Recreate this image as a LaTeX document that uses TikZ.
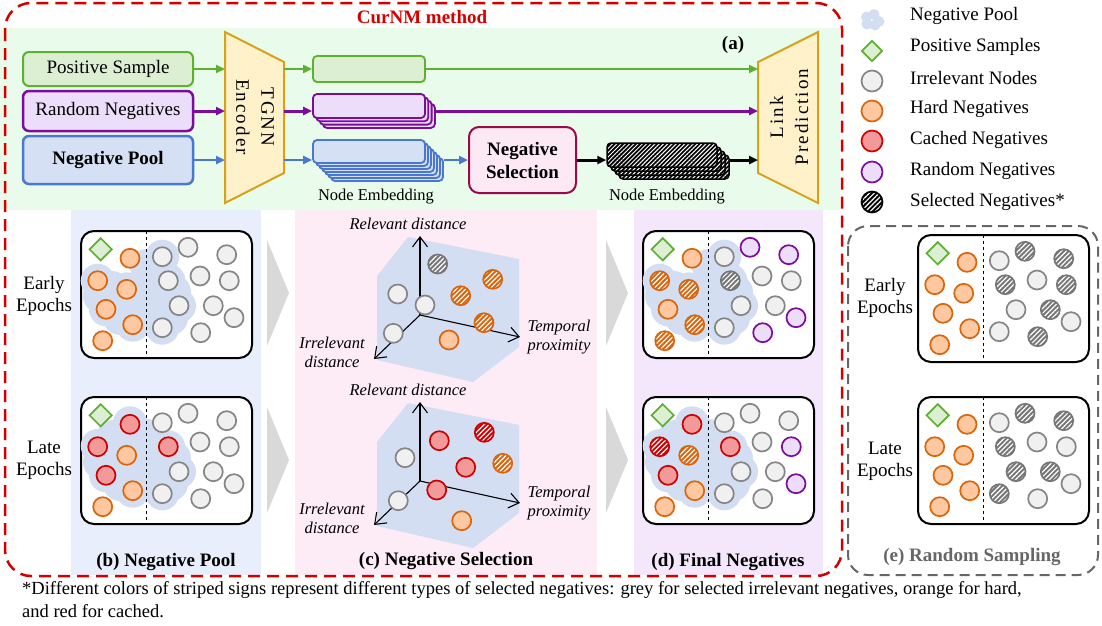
\documentclass[tikz,border=0pt]{standalone}
\usepackage{fontspec}
\setmainfont{Liberation Serif}
\newfontfamily\spacedserif[LetterSpace=11]{Liberation Serif}
\usetikzlibrary{arrows.meta, positioning, shapes.geometric, patterns.meta}

\definecolor{PosGreen}{HTML}{5DB12F}
\definecolor{PosFill}{HTML}{DCEFD3}
\definecolor{RndPurple}{HTML}{7B0C9C}
\definecolor{RndFill}{HTML}{ECDDFA}
\definecolor{PoolBlue}{HTML}{4A78CF}
\definecolor{PoolFill}{HTML}{D6E0F4}
\definecolor{EncGold}{HTML}{D6A21A}
\definecolor{EncFill}{HTML}{FFF2CB}
\definecolor{SelBorder}{HTML}{9A0A4A}
\definecolor{SelFill}{HTML}{FCE9F4}
\definecolor{HardLine}{HTML}{D9650C}
\definecolor{HardFill}{HTML}{FFC8A0}
\definecolor{CacheLine}{HTML}{CE0000}
\definecolor{CacheFill}{HTML}{F19A99}
\definecolor{IrrLine}{HTML}{858585}
\definecolor{IrrDark}{HTML}{767676}
\definecolor{IrrFill}{HTML}{F0F0F0}
\definecolor{MethodRed}{HTML}{D40000}
\definecolor{BgA}{HTML}{E9FBEA}
\definecolor{BgB}{HTML}{E8EEFC}
\definecolor{BgC}{HTML}{FDEBF5}
\definecolor{BgD}{HTML}{F4E7FB}
\definecolor{Blob}{HTML}{D4DEF3}
\definecolor{Chevron}{HTML}{D9D9D9}
\definecolor{RandGray}{HTML}{666666}

% places of the 18 samples in a box, read off the upper box of (b)
\def\nx{{100.7,130,97.7,126.7,106,132.7,102.7,162.3,188,226.7,168.3,200,229.3,179,213.3,234,162.3,200.7}}
\def\ny{{249.3,258.3,280.7,289.3,309.3,324.7,340.7,256.7,247.3,254.7,280.7,276,280.7,305.7,305.7,317.7,327.7,332.7}}

\begin{document}
\begin{tikzpicture}[x=1pt, y=-1pt,
  >={Triangle[length=9pt, width=8pt]},
  every node/.style={font=\fontsize{19}{22}\selectfont},
  smp/.style={circle, line width=1.7pt, minimum size=19pt, inner sep=0pt},
  irrnode/.style={smp, draw=IrrLine, fill=IrrFill},
  hardnode/.style={smp, draw=HardLine, fill=HardFill},
  cachenode/.style={smp, draw=CacheLine, fill=CacheFill},
  rndnode/.style={smp, draw=RndPurple, fill=RndFill},
  hatched/.style={smp, draw=#1, preaction={fill=#1},
    pattern={Lines[angle=45, distance=3.4pt, line width=1.2pt]}, pattern color=white},
  irrsel/.style={hatched=IrrDark},
  hardsel/.style={hatched=HardLine},
  cachesel/.style={hatched=CacheLine},
  possample/.style={diamond, draw=PosGreen, fill=PosFill, line width=1.7pt, minimum size=23pt, inner sep=0pt},
  inbox/.style={rounded corners=6pt, line width=2pt, minimum width=170pt, inner sep=0pt},
  embed/.style={rounded corners=4pt, line width=1.8pt, minimum width=112pt, inner sep=0pt},
  sbox/.style={rounded corners=13pt, line width=2pt, fill=white},
  axisline/.style={line width=1.1pt, -{Straight Barb[length=10pt, width=15pt]}},
  ptitle/.style={font=\fontsize{19}{22}\selectfont\bfseries},
  axlabel/.style={font=\fontsize{16.5}{19}\selectfont\itshape, align=center},
  smalltext/.style={font=\fontsize{16.5}{19}\selectfont},
  lgtext/.style={anchor=west, inner sep=0pt}
]
\useasboundingbox (0,0) rectangle (1102,625);

% backgrounds
\fill[BgA] (0,28) rectangle (840,210);
\fill[BgB] (71,210) rectangle (261,575);
\fill[BgC] (295,210) rectangle (597,575);
\fill[BgD] (634,210) rectangle (823,575);
\draw[MethodRed, line width=2.5pt, dash pattern=on 12pt off 7pt, rounded corners=26pt] (5,3) rectangle (842,576);
\node[ptitle, text=MethodRed] (title) at (422,17) {CurNM method};

% (a) pipeline
\node[inbox, draw=PosGreen, fill=PosFill, minimum height=34pt] (psample) at (108,69) {Positive Sample};
\node[inbox, draw=RndPurple, fill=RndFill, minimum height=40pt, line width=2.5pt] (rndneg) at (108,111) {Random Negatives};
\node[inbox, draw=PoolBlue, fill=PoolFill, minimum height=48pt, line width=2.5pt, font=\fontsize{19}{22}\selectfont\bfseries] (negpool) at (108,160) {Negative Pool};

\draw[EncGold, fill=EncFill, line width=2pt] (225,32) -- (284,62) -- (284,173) -- (225,203) -- cycle;
\coordinate (encl) at (225,117);
\coordinate (encr) at (284,117);
\node[rotate=-90, align=center, font=\spacedserif\fontsize{19}{25}\selectfont] (enc) at (255,117) {TGNN\\Encoder};

\draw[EncGold, fill=EncFill, line width=2pt] (758,62) -- (818,32) -- (818,203) -- (758,173) -- cycle;
\coordinate (linkl) at (758,117);
\node[rotate=90, align=center, font=\spacedserif\fontsize{19}{25}\selectfont] (link) at (789,117) {Link\\Prediction};

\node[embed, draw=PosGreen, fill=PosFill, minimum height=26pt] (embpos) at (369,69) {};
\foreach \i in {3,2,1,0}
  \node[embed, draw=RndPurple, fill=RndFill, minimum height=24pt] (embrnd\i) at (369+3.3*\i,106+3.3*\i) {};
\foreach \i in {6,...,0}
  \node[embed, draw=PoolBlue, fill=PoolFill, minimum height=23pt] (embpool\i) at (369+3*\i,151.5+3*\i) {};
\node[smalltext] (embtxt1) at (376,197) {Node Embedding};

\node[rounded corners=10pt, draw=SelBorder, fill=SelFill, line width=2pt, minimum width=107pt, minimum height=66pt,
  align=center, font=\fontsize{19}{23}\selectfont\bfseries] (negsel) at (522.5,160) {Negative\\Selection};

\foreach \i in {3,2,1,0}
  \node[embed, minimum width=110pt, minimum height=24pt, draw=black, line width=1.5pt, preaction={fill=black},
    pattern={Lines[angle=45, distance=3pt, line width=1pt]}, pattern color=white] (embsel\i) at (662+4*\i,155+4*\i) {};
\node[smalltext] (embtxt2) at (667,197) {Node Embedding};
\node[ptitle] (lbla) at (733,45) {(a)};

\draw[->, PosGreen, line width=2pt] (psample.east) -- (psample.east -| encl);
\draw[->, PosGreen, line width=2pt] (psample.east -| encr) -- (embpos.west);
\draw[->, PosGreen, line width=2pt] (embpos.east) -- (embpos.east -| linkl);
\draw[->, RndPurple, line width=3pt] (rndneg.east) -- (rndneg.east -| encl);
\draw[->, RndPurple, line width=3pt] (rndneg.east -| encr) -- (rndneg.east -| embrnd0.west);
\draw[->, RndPurple, line width=3pt] (rndneg.east -| embrnd3.east) -- (rndneg.east -| linkl);
\draw[->, PoolBlue, line width=2.5pt] (negpool.east) -- (negpool.east -| encl);
\draw[->, PoolBlue, line width=2.5pt] (negpool.east -| encr) -- (negpool.east -| embpool0.west);
\draw[->, PoolBlue, line width=2.5pt] (negpool.east -| embpool6.east) -- (negsel.west);
\draw[->, line width=3pt] (negsel.east) -- (negsel.east -| embsel0.west);
\draw[->, line width=3pt] (negsel.east -| embsel3.east) -- (negsel.east -| linkl);

% chevrons between panels
\foreach \x in {267,606}
  \foreach \dy in {0,167}
    \fill[Chevron] (\x,240+\dy) -- (\x+22,293+\dy) -- (\x,346+\dy) -- cycle;

% sample boxes of (b), (d), (e)
\foreach \dx/\dy in {0/0, 0/166, 562/0, 562/166, 837/4, 837/166}
  \draw[sbox] (81+\dx,231+\dy) rectangle ++(171,127);
\foreach \dx in {0,562} {
  \foreach \x/\y in {97.7/280.7, 126.7/289.3, 106/309.3, 132.7/324.7, 162.3/256.7, 168.3/280.7, 179/305.7, 162.3/327.7,
      112/288, 116/303, 120/318, 147/266, 147/287, 147/312, 165/296, 174/292, 171/318, 136/300, 100/296}
    \fill[Blob] (\x+\dx,\y) circle (17);
  \foreach \x/\y in {130/423.3, 97.7/446, 126.7/454.3, 106/475.3, 132.7/490.7, 168.3/447.3, 179/471.7, 162.3/493.3,
      113/437, 116/462, 120/484, 147/436, 147/455, 147/478, 165/462, 174/458, 171/484, 136/466, 100/462}
    \fill[Blob] (\x+\dx,\y) circle (17);
}
\foreach \dx/\dy in {0/0, 0/166, 562/0, 562/166, 837/4, 837/166}
  \draw[dashed, line width=1pt] (146+\dx,231+\dy) -- ++(0,127);

\foreach \s [count=\n from 0] in {possample,hardnode,hardnode,hardnode,hardnode,hardnode,hardnode,irrnode,irrnode,irrnode,irrnode,irrnode,irrnode,irrnode,irrnode,irrnode,irrnode,irrnode} {
  \pgfmathsetmacro\xx{\nx[\n]}
  \pgfmathsetmacro\yy{\ny[\n]}
  \node[\s] (b1s\n) at (\xx,\yy) {};
}
\foreach \s [count=\n from 0] in {possample,cachenode,cachenode,hardnode,cachenode,hardnode,hardnode,irrnode,irrnode,irrnode,cachenode,irrnode,irrnode,irrnode,irrnode,irrnode,irrnode,irrnode} {
  \pgfmathsetmacro\xx{\nx[\n]}
  \pgfmathsetmacro\yy{\ny[\n]}
  \node[\s] (b2s\n) at (\xx,\yy+166) {};
}
\foreach \s [count=\n from 0] in {possample,hardnode,hardsel,hardsel,hardnode,hardsel,hardsel,irrnode,rndnode,rndnode,irrsel,irrnode,irrnode,irrnode,irrnode,rndnode,irrnode,rndnode} {
  \pgfmathsetmacro\xx{\nx[\n]}
  \pgfmathsetmacro\yy{\ny[\n]}
  \node[\s] (d1s\n) at (\xx+562,\yy) {};
}
\foreach \s [count=\n from 0] in {possample,cachenode,cachesel,hardsel,cachenode,hardnode,hardnode,irrnode,irrnode,irrnode,cachenode,irrnode,rndnode,irrnode,irrnode,rndnode,irrnode,irrnode} {
  \pgfmathsetmacro\xx{\nx[\n]}
  \pgfmathsetmacro\yy{\ny[\n]}
  \node[\s] (d2s\n) at (\xx+562,\yy+166) {};
}
\foreach \s [count=\n from 0] in {possample,hardnode,hardnode,hardnode,hardnode,hardnode,hardnode,irrnode,irrsel,irrsel,irrsel,irrnode,irrsel,irrnode,irrsel,irrnode,irrnode,irrsel} {
  \pgfmathsetmacro\xx{\nx[\n]}
  \pgfmathsetmacro\yy{\ny[\n]}
  \node[\s] (e1s\n) at (\xx+837,\yy+4) {};
}
\foreach \s [count=\n from 0] in {possample,hardnode,hardnode,hardnode,hardnode,hardnode,hardnode,irrnode,irrsel,irrsel,irrsel,irrnode,irrnode,irrsel,irrsel,irrnode,irrsel,irrnode} {
  \pgfmathsetmacro\xx{\nx[\n]}
  \pgfmathsetmacro\yy{\ny[\n]}
  \node[\s] (e2s\n) at (\xx+837,\yy+166) {};
}

\node[align=center] (earlyb) at (44,296) {Early\\Epochs};
\node[align=center] (lateb) at (44,460) {Late\\Epochs};

% (c) selection space
\foreach \dy/\t in {0/u, 166/l} {
  \fill[Blob] (377,276+\dy) -- (408,237+\dy) -- (519,259+\dy) -- (519,347+\dy) -- (473,382+\dy) -- (377,360+\dy) -- cycle;
  \coordinate (orig\t) at (420,315+\dy);
  \coordinate (up\t) at (420,236+\dy);
  \coordinate (right\t) at (520,337+\dy);
  \coordinate (down\t) at (374,359+\dy);
  \draw[axisline] (orig\t) -- (up\t);
  \draw[axisline] (orig\t) -- (right\t);
  \draw[axisline] (orig\t) -- (down\t);
  \node[axlabel] (rel\t) at (408,224+\dy) {Relevant distance};
  \node[axlabel] (tmp\t) at (559,337+\dy) {Temporal\\proximity};
  \node[axlabel] (irr\t) at (332,352+\dy) {Irrelevant\\distance};
}
\foreach \s/\x/\y [count=\n] in {irrsel/437.7/264, hardsel/492.7/279.3, irrnode/397.7/294, hardsel/460.7/295.7,
    irrnode/425/305, hardsel/484/322.7, irrnode/393.3/333.3, hardnode/449/340}
  \node[\s] (cu\n) at (\x,\y) {};
\foreach \s/\x/\y [count=\n] in {cachesel/484.3/432.3, cachenode/439.3/440.7, irrnode/405/457.7, cachenode/465.7/467.3,
    hardsel/502.7/463.3, cachenode/436.7/490, irrnode/398.3/500.7, hardnode/461.7/520.7}
  \node[\s] (cl\n) at (\x,\y) {};

\node[ptitle] (ttlb) at (166,562) {(b) Negative Pool};
\node[ptitle] (ttlc) at (446,561) {(c) Negative Selection};
\node[ptitle] (ttld) at (728,562) {(d) Final Negatives};

% (e) random sampling
\draw[RandGray, line width=2pt, dash pattern=on 10pt off 6pt, rounded corners=20pt] (848,226) rectangle (1098,575);
\node[align=center] (earlye) at (885,298) {Early\\Epochs};
\node[align=center] (latee) at (885,461) {Late\\Epochs};
\node[ptitle, text=RandGray] (ttle) at (972,557) {(e) Random Sampling};

% legend
\foreach \x/\y in {866.5/17, 874/14.5, 879/21.5, 867/24, 875/25}
  \fill[Blob] (\x,\y) circle (5.5);
\node[possample, minimum size=21pt] (lgpos) at (872,51) {};
\node[irrnode, minimum size=21pt] (lgirr) at (872,81) {};
\node[hardnode, minimum size=21pt] (lghard) at (872,111) {};
\node[cachenode, minimum size=21pt] (lgcache) at (872,141) {};
\node[rndnode, minimum size=21pt] (lgrnd) at (872,172) {};
\node[hatched=black, minimum size=21pt] (lgsel) at (872,202) {};
\foreach \t [count=\n from 0] in {Negative Pool, Positive Samples, Irrelevant Nodes, Hard Negatives, Cached Negatives, Random Negatives, Selected Negatives*}
  \node[lgtext] (lgt\n) at (910,16+31*\n) {\t};

% footnote
\node[anchor=north west, align=left, inner sep=0pt, font=\fontsize{18.5}{23}\selectfont] (note) at (22,581)
  {*Different colors of striped signs represent different types of selected negatives: grey for selected irrelevant negatives, orange for hard,\\and red for cached.};
\end{tikzpicture}
\end{document}
